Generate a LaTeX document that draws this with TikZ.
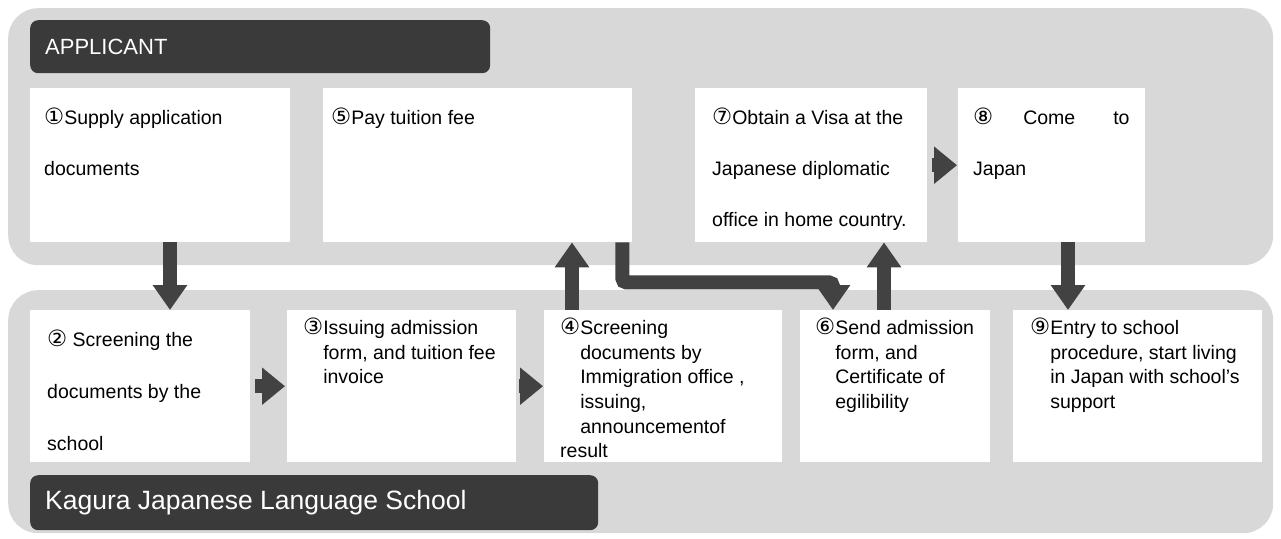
\documentclass[tikz,border=0pt]{standalone}
\usepackage{fontspec}
\setmainfont{Liberation Sans}
\newfontfamily\cnum[Scale=1.15]{DejaVu Sans}
\usetikzlibrary{arrows.meta,calc}
\definecolor{band}{HTML}{D8D8D8}
\definecolor{hdr}{HTML}{3A3A3A}
\definecolor{arr}{HTML}{424242}
\newcommand{\ind}[1]{\phantom{\cnum #1}}
\tikzset{
  bandbox/.style={fill=band, draw=none, rounded corners=30pt},
  hdrbox/.style={fill=hdr, draw=none, rounded corners=8pt, text=white, anchor=north west, inner sep=0pt},
  whitebox/.style={fill=white, draw=none, anchor=north west, inner sep=0pt},
  toptxt/.style={anchor=north west, inner sep=0pt, align=left, font=\fontsize{19.5pt}{51pt}\selectfont},
  bottxt/.style={anchor=north west, inner sep=0pt, align=left, font=\fontsize{19.5pt}{24.6pt}\selectfont},
  blk/.style={draw=arr, line width=14pt, -{Triangle[width=33pt,length=25pt]}, color=arr},
  rgt/.style={draw=arr, line width=14pt, -{Triangle[width=36pt,length=23pt]}, color=arr}
}
\begin{document}
\begin{tikzpicture}[x=1pt,y=-1pt]
\useasboundingbox (0,0) rectangle (1281,538);
\fill[white] (0,0) rectangle (1281,538);
% bands
\node[bandbox, anchor=north west, minimum width=1265pt, minimum height=257pt, inner sep=0pt] (topband) at (8,8) {};
\node[bandbox, anchor=north west, minimum width=1265pt, minimum height=243pt, inner sep=0pt] (botband) at (8,290) {};
% headers
\node[hdrbox, minimum width=460pt, minimum height=53pt] (apphdr) at (30,20) {};
\node[anchor=west, text=white, font=\fontsize{22pt}{24pt}\selectfont, inner sep=0pt] (applbl) at ([xshift=15pt]apphdr.west) {APPLICANT};
\node[hdrbox, minimum width=568pt, minimum height=55pt] (schhdr) at (30,475) {};
\node[anchor=west, text=white, font=\fontsize{26.5pt}{28pt}\selectfont, inner sep=0pt] (schlbl) at ([xshift=15pt]schhdr.west) {Kagura Japanese Language School};
% top boxes
\node[whitebox, minimum width=260pt, minimum height=154pt] (n1) at (30,88) {};
\node[whitebox, minimum width=309pt, minimum height=154pt] (n5) at (323,88) {};
\node[whitebox, minimum width=232pt, minimum height=154pt] (n7) at (695,88) {};
\node[whitebox, minimum width=187pt, minimum height=154pt] (n8) at (958,88) {};
% bottom boxes
\node[whitebox, minimum width=220pt, minimum height=152pt] (n2) at (30,310) {};
\node[whitebox, minimum width=229pt, minimum height=152pt] (n3) at (287,310) {};
\node[whitebox, minimum width=238pt, minimum height=152pt] (n4) at (544,310) {};
\node[whitebox, minimum width=190pt, minimum height=152pt] (n6) at (800,310) {};
\node[whitebox, minimum width=249pt, minimum height=152pt] (n9) at (1013,310) {};
% texts
\node[toptxt] (t1) at ([xshift=14pt,yshift=-20pt]n1.north west) {{\cnum ①}Supply application\\documents};
\node[toptxt] (t5) at ([xshift=8pt,yshift=-20pt]n5.north west) {{\cnum ⑤}Pay tuition fee};
\node[toptxt] (t7) at ([xshift=17pt,yshift=-20pt]n7.north west) {{\cnum ⑦}Obtain a Visa at the\\Japanese diplomatic\\office in home country.};
\node[toptxt] (t8) at ([xshift=15pt,yshift=-20pt]n8.north west) {{\cnum ⑧}\hspace{30pt}Come\hspace{38pt}to\\Japan};
\node[toptxt, font=\fontsize{19.5pt}{52pt}\selectfont] (t2) at ([xshift=17pt,yshift=-20pt]n2.north west) {{\cnum ②} Screening the\\documents by the\\school};
\node[bottxt] (t3) at ([xshift=16pt,yshift=-8pt]n3.north west) {{\cnum ③}Issuing admission\\\ind{③}form, and tuition fee\\\ind{③}invoice};
\node[bottxt] (t4) at ([xshift=16pt,yshift=-8pt]n4.north west) {{\cnum ④}Screening\\\ind{④}documents by\\\ind{④}Immigration office ,\\\ind{④}issuing,\\\ind{④}announcementof\\result};
\node[bottxt] (t6) at ([xshift=15pt,yshift=-8pt]n6.north west) {{\cnum ⑥}Send admission\\\ind{⑥}form, and\\\ind{⑥}Certificate of\\\ind{⑥}egilibility};
\node[bottxt] (t9) at ([xshift=17pt,yshift=-8pt]n9.north west) {{\cnum ⑨}Entry to school\\\ind{⑨}procedure, start living\\\ind{⑨}in Japan with school's\\\ind{⑨}support};
% arrows
\draw[blk] ([xshift=140pt]n1.south west) -- ([xshift=140pt]n2.north west);
\draw[blk] ([xshift=28pt]n4.north west) -- ([xshift=249pt]n5.south west);
\draw[blk, rounded corners=4pt] ([xshift=-10pt]n5.south east) -- ++(0,40) -| ([xshift=33pt]n6.north west);
\draw[blk] ([xshift=84pt]n6.north west) -- ([xshift=189pt]n7.south west);
\draw[blk] ([xshift=110pt]n8.south west) -- ([xshift=55pt]n9.north west);
\draw[rgt] ([xshift=5pt]n2.east) -- ([xshift=-2pt]n3.west);
\draw[rgt] ([xshift=3pt]n3.east) -- ([xshift=-1pt]n4.west);
\draw[rgt] ([xshift=5pt]n7.east) -- ([xshift=-1pt]n8.west);
\end{tikzpicture}
\end{document}
